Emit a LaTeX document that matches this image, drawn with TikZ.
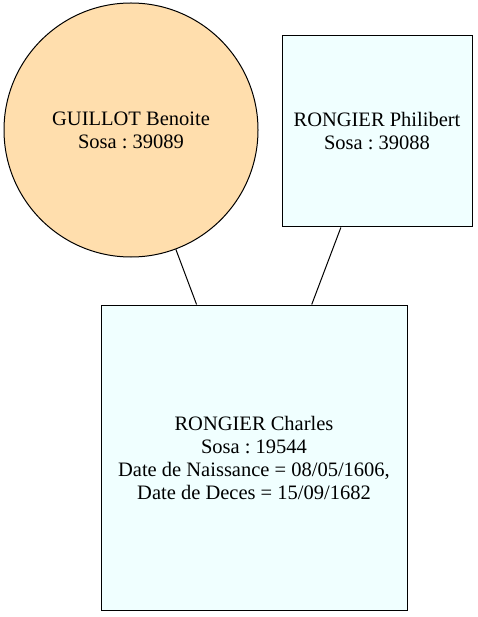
\documentclass[tikz,border=0pt]{standalone}
\usepackage{fontspec}
\setmainfont{Liberation Serif}
\usepackage{tikz}
\usepackage{xcolor}
\definecolor{navajo}{HTML}{FFDEAD}
\definecolor{azure}{HTML}{F0FFFF}
\frenchspacing

\begin{document}
\begin{tikzpicture}[
  x=1pt, y=-1pt,
  every node/.style={font=\fontsize{20.5}{23}\selectfont, align=center, inner sep=0pt},
  person/.style={draw, line width=1pt, fill=azure, rectangle},
  mother/.style={draw, line width=1pt, fill=navajo, circle, minimum size=254pt},
  link/.style={line width=1pt}
]
\useasboundingbox (0,0) rectangle (478,617);

% ---- PARENTS ----
\node[mother] (guillot) at (131, 130)
  {GUILLOT Benoite\\Sosa : 39089};
\node[person, minimum width=190pt, minimum height=191pt] (philibert) at (377, 131.5)
  {RONGIER Philibert\\Sosa : 39088};

% ---- CHILD ----
\node[person, minimum width=306pt, minimum height=305pt] (charles) at (254, 457.5)
  {RONGIER Charles\\Sosa : 19544\\Date de Naissance = 08/05/1606,\\Date de Deces = 15/09/1682};

% ---- LINKS ----
\draw[link] (guillot) -- (charles);
\draw[link] (philibert) -- (charles);

\end{tikzpicture}
\end{document}
